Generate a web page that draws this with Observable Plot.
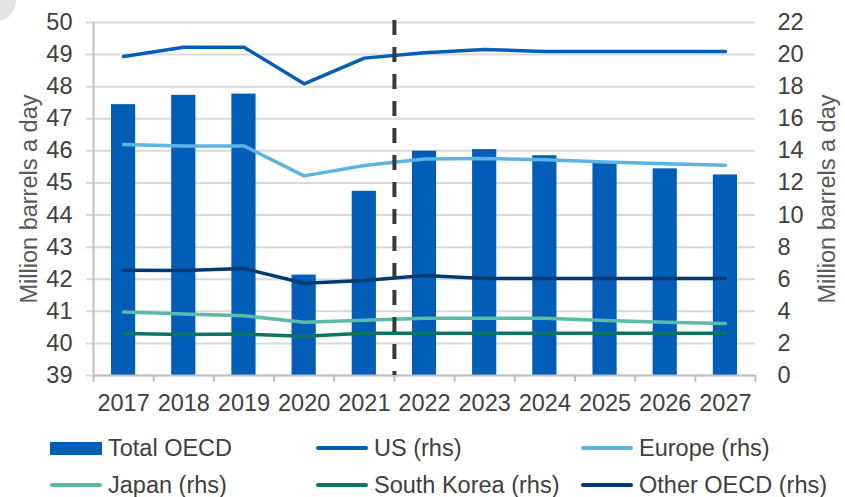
<!DOCTYPE html>
<html>
<head>
<meta charset="utf-8">
<script src="https://cdn.jsdelivr.net/npm/d3@7"></script>
<script src="https://cdn.jsdelivr.net/npm/@observablehq/plot@0.6"></script>
<style>
  body { margin: 0; background: #fff; font-family: "Liberation Sans", Arial, sans-serif; }
  #wrap { position: relative; width: 845px; height: 497px; overflow: hidden; background: #fff; }
  #corner { position: absolute; left: -24px; top: -19px; width: 40px; height: 40px; border-radius: 50%; background: #e4e4e4; }
  .item { position: absolute; display: flex; align-items: center; height: 26px; font-size: 23.5px; color: #404040; white-space: nowrap; }
  .sw { width: 52px; margin-right: 6px; }
  .sw.bar { height: 13px; }
  .sw.line { height: 4px; border-radius: 2px; }
</style>
</head>
<body>
<div id="wrap">
  <div id="chart"></div>
  <div id="legend"></div>
  <div id="corner"></div>
</div>
<script>
// ---- data ----
const years = [2017, 2018, 2019, 2020, 2021, 2022, 2023, 2024, 2025, 2026, 2027];
const totalOECD = [47.44, 47.73, 47.77, 42.13, 44.74, 45.99, 46.04, 45.85, 45.65, 45.44, 45.25];
const usRhs = [19.88, 20.46, 20.46, 18.18, 19.78, 20.12, 20.32, 20.19, 20.19, 20.19, 20.19];
const europeRhs = [14.40, 14.31, 14.31, 12.44, 13.09, 13.50, 13.52, 13.44, 13.30, 13.19, 13.11];
const japanRhs = [3.95, 3.84, 3.72, 3.32, 3.45, 3.57, 3.57, 3.57, 3.43, 3.32, 3.24];
const koreaRhs = [2.62, 2.55, 2.58, 2.45, 2.64, 2.64, 2.64, 2.64, 2.64, 2.64, 2.64];
const otherRhs = [6.56, 6.54, 6.67, 5.75, 5.92, 6.23, 6.05, 6.05, 6.05, 6.05, 6.05];
const leftTicks = [39, 40, 41, 42, 43, 44, 45, 46, 47, 48, 49, 50];
const rightTicks = [0, 2, 4, 6, 8, 10, 12, 14, 16, 18, 20, 22];
const lastActualYear = 2021;
const axisTitle = "Million barrels a day";
const barName = "Total OECD";
const lineNames = ["US (rhs)", "Europe (rhs)", "Japan (rhs)", "South Korea (rhs)", "Other OECD (rhs)"];
const lineValues = [usRhs, europeRhs, japanRhs, koreaRhs, otherRhs];

// ---- styles ----
const barColor = "#005EB8";
const lineColors = ["#005EB8", "#5CB4E3", "#5BBBA6", "#0D7462", "#003A70"];
const fs = 23.5;

// ---- scales mapping (rhs -> lhs units) ----
const yLeftDomain = [leftTicks[0], leftTicks[leftTicks.length - 1]];
const yRightDomain = [rightTicks[0], rightTicks[rightTicks.length - 1]];
const k = (yLeftDomain[1] - yLeftDomain[0]) / (yRightDomain[1] - yRightDomain[0]);
const toLeft = v => yLeftDomain[0] + (v - yRightDomain[0]) * k;
const fromLeft = d => Math.round((d - yLeftDomain[0]) / k + yRightDomain[0]);

const barRows = years.map((year, i) => ({year, value: totalOECD[i]}));
const lineRows = lineNames.flatMap((name, s) => years.map((year, i) => ({year, name, value: toLeft(lineValues[s][i])})));
const boundaries = years.map(y => y - 0.5).concat([years[years.length - 1] + 0.5]);
const xDomain = [boundaries[0], boundaries[boundaries.length - 1]];

const plot = Plot.plot({
  width: 845,
  height: 425,
  marginLeft: 93,
  marginRight: 90,
  marginTop: 22,
  marginBottom: 50,
  x: {type: "linear", domain: xDomain},
  y: {domain: yLeftDomain},
  color: {domain: lineNames, range: lineColors},
  style: {fontFamily: "'Liberation Sans', Arial, sans-serif", fontSize: fs + "px", color: "#404040", background: "#fff", overflow: "visible"},
  marks: [
    Plot.gridY(leftTicks, {stroke: "#d9d9d9", strokeOpacity: 1, strokeWidth: 2, insetLeft: -7}),
    Plot.rect(barRows, {x1: d => d.year - 0.5, x2: d => d.year + 0.5, y1: () => yLeftDomain[0], y2: "value", fill: barColor, insetLeft: 18, insetRight: 18}),
    Plot.ruleY([yLeftDomain[0]], {stroke: "#bfbfbf", strokeWidth: 2}),
    Plot.ruleX([xDomain[0]], {stroke: "#bfbfbf", strokeWidth: 2}),
    Plot.axisY(leftTicks, {anchor: "left", tickSize: 0, tickPadding: 21, label: null, color: "#404040", fontSize: fs}),
    Plot.axisY(rightTicks.map(toLeft), {anchor: "right", tickSize: 0, tickPadding: 22, tickFormat: fromLeft, label: null, color: "#404040", fontSize: fs}),
    Plot.axisX(years, {tickSize: 0, tickPadding: 19, tickFormat: d => String(d), label: null, color: "#404040", fontSize: fs}),
    Plot.axisX(boundaries, {tickSize: 7, tickFormat: () => "", label: null, stroke: "#bfbfbf", strokeWidth: 2}),
    Plot.line(lineRows, {x: "year", y: "value", z: "name", stroke: "name", strokeWidth: 3.5, strokeLinecap: "round", strokeLinejoin: "round"}),
    Plot.ruleX([lastActualYear + 0.5], {stroke: "#383838", strokeWidth: 4, strokeDasharray: "15 12", insetTop: -2}),
    Plot.text([axisTitle], {text: d => d, frameAnchor: "left", dx: -64, rotate: -90, textAnchor: "middle", lineAnchor: "middle", fontSize: fs, fill: "#595959"}),
    Plot.text([axisTitle], {text: d => d, frameAnchor: "right", dx: 72, rotate: -90, textAnchor: "middle", lineAnchor: "middle", fontSize: fs, fill: "#595959"})
  ]
});
document.getElementById("chart").appendChild(plot);

// ---- legend ----
const legendItems = [{name: barName, color: barColor, kind: "bar"}].concat(lineNames.map((name, i) => ({name, color: lineColors[i], kind: "line"})));
const colX = [50, 316, 581];
const rowY = [435, 472];
const legend = document.getElementById("legend");
legendItems.forEach((it, i) => {
  const el = document.createElement("div");
  el.className = "item";
  el.style.left = colX[i % 3] + "px";
  el.style.top = rowY[Math.floor(i / 3)] + "px";
  const sw = document.createElement("div");
  sw.className = "sw " + it.kind;
  sw.style.background = it.color;
  const tx = document.createElement("span");
  tx.textContent = it.name;
  el.appendChild(sw);
  el.appendChild(tx);
  legend.appendChild(el);
});
</script>
</body>
</html>
